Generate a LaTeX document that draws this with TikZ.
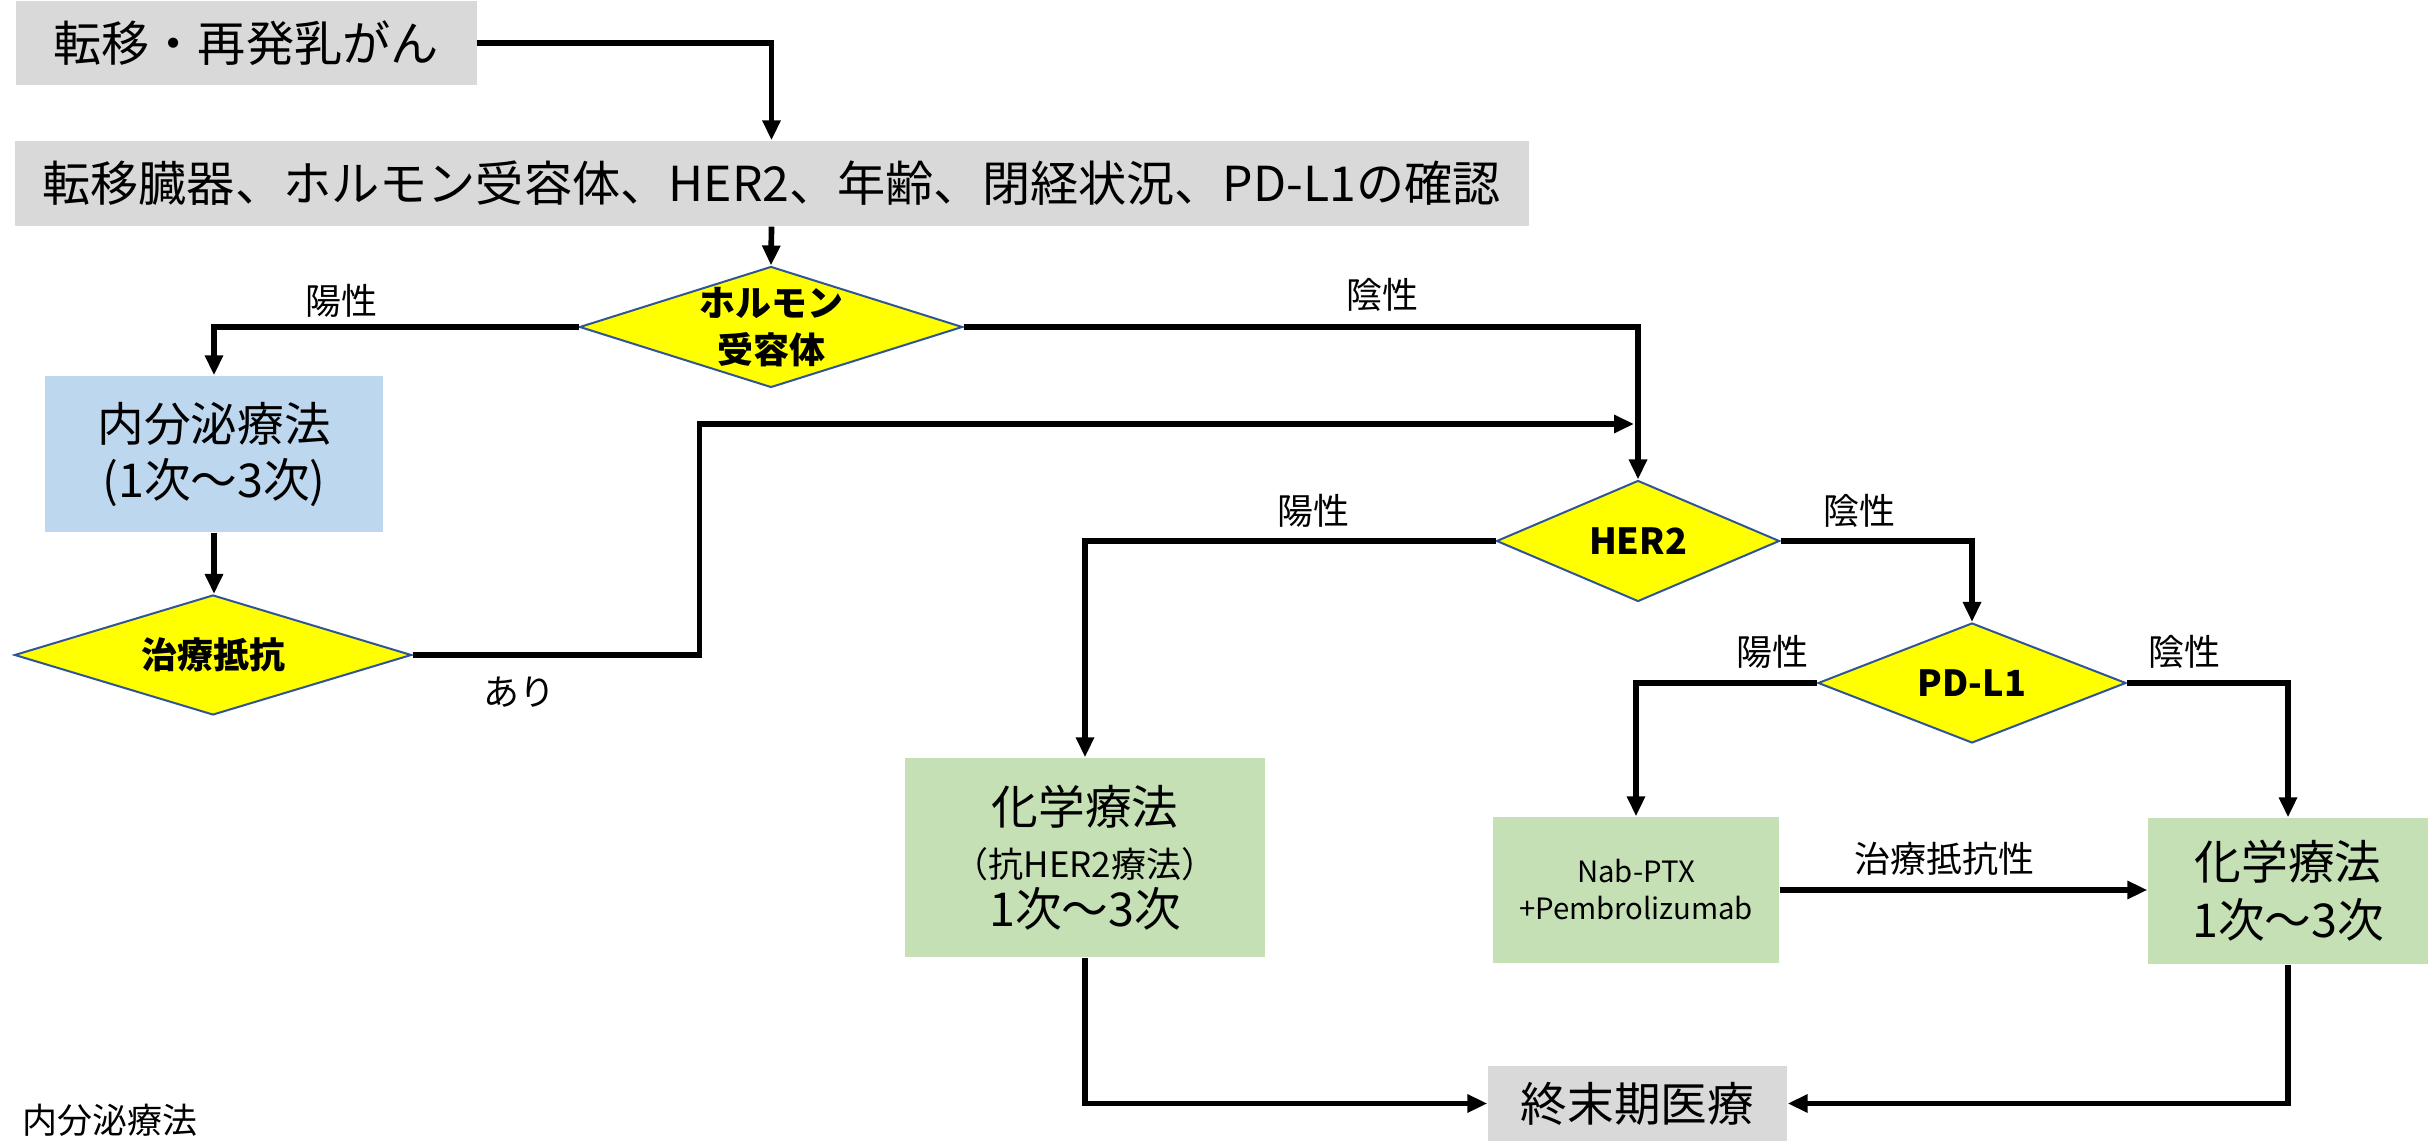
\documentclass[tikz,border=0pt]{standalone}
\usepackage{fontspec}
\setmainfont{Noto Sans CJK JP}
\usetikzlibrary{shapes.geometric,arrows.meta}
\definecolor{boxgray}{HTML}{D9D9D9}
\definecolor{boxblue}{HTML}{BDD7EE}
\definecolor{boxgreen}{HTML}{C5E0B4}
\definecolor{dyellow}{HTML}{FFFF00}
\definecolor{dborder}{HTML}{2F5597}
\newcommand\fbig{\fontsize{14pt}{16.8pt}\selectfont}
\newcommand\ftop{\fontsize{14.45pt}{17pt}\selectfont}
\newcommand\fmid{\fontsize{10.5pt}{12.6pt}\selectfont}
\newcommand\fdia{\fontsize{10.8pt}{14pt}\selectfont\bfseries}
\newcommand\flab{\fontsize{10.8pt}{13pt}\selectfont}
\newcommand\fsmall{\fontsize{8.8pt}{11.1pt}\selectfont}
\newcommand\ffoot{\fontsize{10.5pt}{12pt}\selectfont}
\begin{document}
\begin{tikzpicture}[x=0.3pt,y=-0.3pt,
  box/.style={draw=none, inner sep=0pt, align=center, text=black},
  graybox/.style={box, fill=boxgray, font=\fbig},
  bluebox/.style={box, fill=boxblue, font=\fbig},
  greenbox/.style={box, fill=boxgreen, font=\fbig},
  dia/.style={shape=diamond, fill=dyellow, draw=dborder, line width=0.6pt, inner sep=0pt},
  dialabel/.style={font=\fdia, align=center, inner sep=0pt},
  lab/.style={font=\flab, inner sep=0pt},
  arr/.style={line width=1.7pt, -{Triangle[length=6pt,width=5.2pt]}}
]
\useasboundingbox (0,0) rectangle (2430,1141);

% boxes
\node[graybox, font=\ftop, minimum width=138.3pt, minimum height=25.2pt] (b1) at (246,43) {転移・再発乳がん};
\node[graybox, font=\ftop, minimum width=454.2pt, minimum height=25.5pt] (b2) at (771.5,183.5) {転移臓器、ホルモン受容体、HER2、年齢、閉経状況、PD-L1の確認};
\node[bluebox, minimum width=101.4pt, minimum height=46.8pt] (e1) at (214,454) {内分泌療法\\(1次～3次)};
\node[greenbox, minimum width=108pt, minimum height=59.7pt] (c1) at (1085,857.5) {化学療法\\[-1pt]{\fmid （抗HER2療法）}\\[-2.2pt]1次～3次};
\node[greenbox, minimum width=85.8pt, minimum height=43.8pt, font=\fsmall] (n1) at (1636,890) {Nab-PTX\\+Pembrolizumab};
\node[greenbox, minimum width=84pt, minimum height=43.8pt] (c2) at (2288,891) {化学療法\\[0.6pt]1次～3次};
\node[graybox, minimum width=89.7pt, minimum height=22.5pt] (t1) at (1637.5,1103.5) {終末期医療};

% diamonds
\node[dia, minimum width=114.9pt, minimum height=36.3pt, label={[dialabel]center:{ホルモン\\受容体}}] (d1) at (771,327) {};
\node[dia, minimum width=119.1pt, minimum height=36pt, label={[dialabel]center:{治療抵抗}}] (d2) at (213,655) {};
\node[dia, minimum width=84.9pt, minimum height=36.3pt, label={[dialabel]center:{HER2}}] (d3) at (1638,541) {};
\node[dia, minimum width=92.4pt, minimum height=36pt, label={[dialabel]center:{PD-L1}}] (d4) at (1972,683) {};

% connectors
\coordinate (fb) at (1634,424);
\draw[arr] (b1.east) -| (b2.north);
\draw[arr] (b2.south) -- (d1.north);
\draw[arr] (d1.west) -| (e1.north);
\draw[arr] (d1.east) -| (d3.north);
\draw[arr] (e1.south) -- (e1.south |- d2.north);
\draw[arr] (d2.east) -- ++(287,0) |- (fb);
\draw[arr] (d3.west) -| (c1.north);
\draw[arr] (d3.east) -| (d4.north);
\draw[arr] (d4.west) -| (n1.north);
\draw[arr] (d4.east) -| (c2.north);
\draw[arr] (n1.east) -- (n1.east -| c2.west);
\draw[arr] (c1.south) |- (t1.west);
\draw[arr] (c2.south) |- (t1.east);

% labels
\node[lab] (l1) at (341,301) {陽性};
\node[lab] (l2) at (1382,295) {陰性};
\node[lab] (l3) at (519,692) {あり};
\node[lab] (l4) at (1313,511) {陽性};
\node[lab] (l5) at (1859,511) {陰性};
\node[lab] (l6) at (1772,652) {陽性};
\node[lab] (l7) at (2184,652) {陰性};
\node[lab] (l8) at (1944,859) {治療抵抗性};
\node[font=\ffoot, anchor=west, inner sep=0pt] (ft) at (22,1120) {内分泌療法};
\end{tikzpicture}
\end{document}
